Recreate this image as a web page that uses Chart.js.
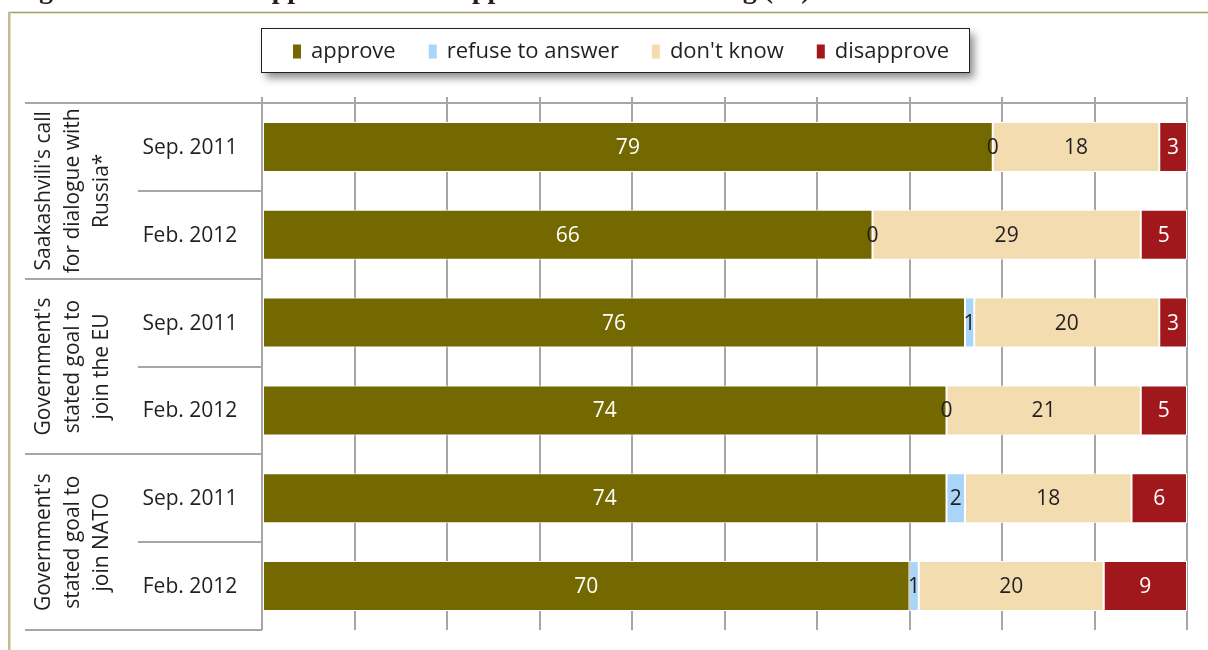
<!DOCTYPE html>
<html>
<head>
<meta charset="utf-8">
<script src="https://cdn.jsdelivr.net/npm/chart.js@4/dist/chart.umd.min.js"></script>
<style>
  html, body { margin: 0; padding: 0; background: #ffffff; }
  #wrap { width: 1208px; height: 650px; position: relative; overflow: hidden; }
  canvas { display: block; }
</style>
</head>
<body>
<div id="wrap"><canvas id="c" width="1208" height="650"></canvas></div>
<script>
// ---- data ----
const titleText = "Figure 18: Levels of approval and disapproval of the following (%)";
const rowLabels = ["Sep. 2011", "Feb. 2012", "Sep. 2011", "Feb. 2012", "Sep. 2011", "Feb. 2012"];
const groupLabels = [
  ["Saakashvili's call", "for dialogue with", "Russia*"],
  ["Government's", "stated goal to", "join the EU"],
  ["Government's", "stated goal to", "join NATO"]
];
const seriesNames = ["approve", "refuse to answer", "don't know", "disapprove"];
const approve    = [79, 66, 76, 74, 74, 70];
const refuse     = [0, 0, 1, 0, 2, 1];
const dontKnow   = [18, 29, 20, 21, 18, 20];
const disapprove = [3, 5, 3, 5, 6, 9];
const xTicks = [0, 10, 20, 30, 40, 50, 60, 70, 80, 90, 100];

// ---- styles ----
const seriesColors = ["#736900", "#A9D5F8", "#F3DCB0", "#A0181C"];
const labelColors  = ["#FFFFFF", "#231F20", "#231F20", "#FFFFFF"];
const FONT = "'Open Sans', 'Noto Sans', sans-serif";
const TEXT = "#231F20";
const LINE = "#A6A6A6";

const seriesData = [approve, refuse, dontKnow, disapprove];

const framePlugin = {
  id: 'frame',
  beforeDraw(chart) {
    const ctx = chart.ctx;
    ctx.save();
    ctx.fillStyle = '#ffffff';
    ctx.fillRect(0, 0, chart.width, chart.height);
    // clipped title (only descenders visible)
    ctx.fillStyle = '#231F20';
    ctx.font = "bold 28px 'Liberation Serif', serif";
    ctx.textBaseline = 'alphabetic';
    ctx.textAlign = 'left';
    ctx.fillText(titleText, 14, -2.5);
    // outer frame
    ctx.strokeStyle = '#A29E5C';
    ctx.lineWidth = 1.5;
    ctx.beginPath();
    ctx.moveTo(8, 12.5);
    ctx.lineTo(chart.width + 5, 12.5);
    ctx.stroke();
    ctx.strokeStyle = '#C4BE8E';
    ctx.lineWidth = 2.5;
    ctx.beginPath();
    ctx.moveTo(9.25, 12);
    ctx.lineTo(9.25, chart.height + 5);
    ctx.stroke();
    ctx.restore();
  },
  afterDraw(chart) {
    const ctx = chart.ctx;
    const ys = chart.scales.y;
    const left = chart.chartArea.left;
    ctx.save();
    // table lines
    ctx.strokeStyle = LINE;
    ctx.lineWidth = 2;
    for (let i = 0; i <= rowLabels.length; i++) {
      const y = Math.round(ys.getPixelForValue(i - 0.5));
      const x0 = (i % 2 === 0) ? 25 : 138;
      ctx.beginPath();
      ctx.moveTo(x0, y);
      ctx.lineTo(left, y);
      ctx.stroke();
    }
    // row labels
    ctx.fillStyle = TEXT;
    ctx.font = "21px " + FONT;
    ctx.textAlign = 'center';
    ctx.textBaseline = 'middle';
    rowLabels.forEach((t, i) => {
      ctx.fillText(t, 190, ys.getPixelForValue(i) + 1);
    });
    // group labels (rotated)
    groupLabels.forEach((lines, g) => {
      const yc = ys.getPixelForValue(g * 2 + 0.5);
      ctx.save();
      ctx.translate(72, yc);
      ctx.rotate(-Math.PI / 2);
      const n = lines.length;
      lines.forEach((t, k) => {
        ctx.fillText(t, 0, (k - (n - 1) / 2) * 29 + 1);
      });
      ctx.restore();
    });
    // legend
    const lx = 261.5, ly = 28.5, lw = 708, lh = 44;
    ctx.save();
    ctx.shadowColor = 'rgba(0,0,0,0.45)';
    ctx.shadowBlur = 8;
    ctx.shadowOffsetX = 4;
    ctx.shadowOffsetY = 5;
    ctx.fillStyle = '#ffffff';
    ctx.fillRect(lx, ly, lw, lh);
    ctx.restore();
    ctx.strokeStyle = '#231F20';
    ctx.lineWidth = 1;
    ctx.strokeRect(lx, ly, lw, lh);
    ctx.font = "22px " + FONT;
    ctx.textAlign = 'left';
    ctx.textBaseline = 'middle';
    let x = 293;
    const cy = ly + lh / 2;
    chart.data.datasets.forEach((ds, i) => {
      ctx.fillStyle = ds.backgroundColor;
      ctx.fillRect(x, cy - 6, 8, 14);
      ctx.fillStyle = TEXT;
      ctx.fillText(ds.label, x + 18, cy + 1);
      x += 18 + ctx.measureText(ds.label).width + 33;
    });
    ctx.restore();
  }
};

const valuePlugin = {
  id: 'values',
  afterDatasetsDraw(chart) {
    const ctx = chart.ctx;
    ctx.save();
    ctx.font = "21px " + FONT;
    ctx.textAlign = 'center';
    ctx.textBaseline = 'middle';
    chart.data.datasets.forEach((ds, i) => {
      const meta = chart.getDatasetMeta(i);
      meta.data.forEach((el, j) => {
        const cx = (el.x + el.base) / 2;
        ctx.fillStyle = labelColors[i];
        ctx.fillText(String(ds.data[j]), cx, el.y + 1);
      });
    });
    ctx.restore();
  }
};

new Chart(document.getElementById('c'), {
  type: 'bar',
  data: {
    labels: rowLabels,
    datasets: seriesNames.map((name, i) => ({
      label: name,
      data: seriesData[i],
      backgroundColor: seriesColors[i],
      borderColor: '#ffffff',
      borderWidth: 1,
      borderSkipped: false,
      barPercentage: 0.57,
      categoryPercentage: 1.0
    }))
  },
  options: {
    indexAxis: 'y',
    responsive: false,
    animation: false,
    devicePixelRatio: 1,
    layout: { padding: { left: 262, right: 21, top: 97, bottom: 20 } },
    plugins: {
      legend: { display: false },
      tooltip: { enabled: false },
      title: { display: false }
    },
    scales: {
      x: {
        type: 'linear',
        stacked: true,
        position: 'top',
        min: 0,
        max: 100,
        afterBuildTicks(scale) { scale.ticks = xTicks.map(v => ({ value: v })); },
        ticks: { display: false },
        grid: { color: LINE, lineWidth: 2, tickLength: 6, drawTicks: true },
        border: { display: true, color: LINE, width: 2 }
      },
      y: {
        stacked: true,
        display: false
      }
    }
  },
  plugins: [framePlugin, valuePlugin]
});
</script>
</body>
</html>
